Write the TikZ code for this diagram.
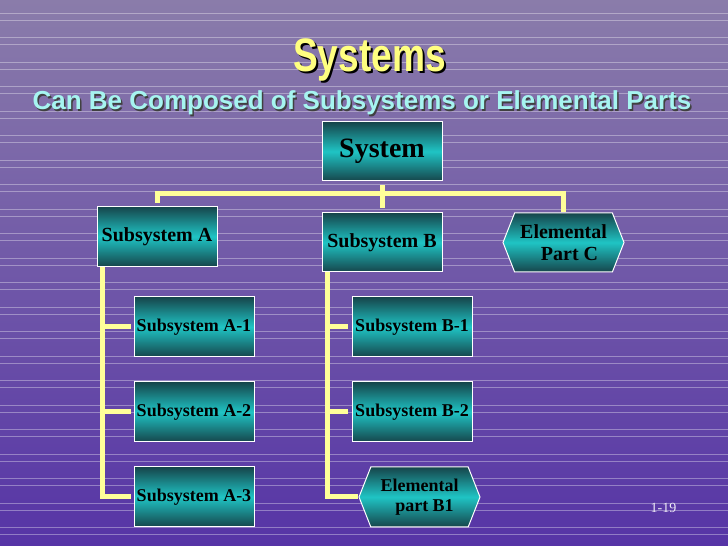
\documentclass[tikz,border=0pt]{standalone}
\usepackage{fontspec}
\setmainfont{Liberation Serif}
\newfontfamily\headfont{Liberation Sans}
\usetikzlibrary{shapes.symbols}
\definecolor{bgtopcolor}{HTML}{8A7CAA}
\definecolor{bgbotcolor}{HTML}{5634A6}
\definecolor{boxdarkcolor}{HTML}{16454B}
\definecolor{boxlightcolor}{HTML}{1FC4C4}
\definecolor{buscolor}{HTML}{FFFF99}
\definecolor{titlecolor}{HTML}{FFFF80}
\definecolor{subtitlecolor}{HTML}{A6F4F0}
\tikzset{
  unit/.style={draw=white, line width=1pt, top color=boxdarkcolor, bottom color=boxdarkcolor,
    middle color=boxlightcolor, minimum width=120pt, minimum height=60pt, inner sep=0pt,
    text=black, font=\bfseries\fontsize{18}{20}\selectfont},
  part/.style={unit, signal, signal to=west and east, signal pointer angle=137, align=center},
  bus/.style={draw=buscolor, line width=5pt},
  bgline/.style={draw=white, opacity=0.35, line width=0.8pt},
  headline/.style={anchor=base, font=\headfont\bfseries\fontsize{47}{50}\selectfont},
  subhead/.style={anchor=base, font=\headfont\bfseries\fontsize{26}{28}\selectfont}
}
\begin{document}
\begin{tikzpicture}[x=1pt,y=1pt]
  \useasboundingbox (0,0) rectangle (728,546);
  \shade[top color=bgtopcolor, bottom color=bgbotcolor] (0,0) rectangle (728,546);
  \foreach \k in {0,...,21}
  {
    \draw[bgline] (0,{533-24.5*\k}) -- (728,{533-24.5*\k});
    \draw[bgline] (0,{526-24.5*\k}) -- (728,{526-24.5*\k});
  }

  \node[headline, text=black] (titleshade) at (371.5,472) {\scalebox{0.79}[1]{Systems}};
  \node[headline, text=titlecolor] (title) at (369.5,474) {\scalebox{0.79}[1]{Systems}};
  \node[subhead, text=black!75] (subtitleshade) at (363.5,434.5) {Can Be Composed of Subsystems or Elemental Parts};
  \node[subhead, text=subtitlecolor] (subtitle) at (362,436) {Can Be Composed of Subsystems or Elemental Parts};

  \node[unit, minimum height=59pt, font=\bfseries\fontsize{28}{30}\selectfont] (sys) at (382,394.5) {System};
  \node[unit, font=\bfseries\fontsize{20}{22}\selectfont] (subA) at (157,309.5) {Subsystem A};
  \node[unit, minimum height=59pt, font=\bfseries\fontsize{20}{22}\selectfont] (subB) at (382,303.5) {Subsystem B};
  \node[part, minimum width=121pt, minimum height=59pt, font=\bfseries\fontsize{20}{22}\selectfont] (partC) at (563.5,303.5)
    {Elemental\\\hspace*{12pt}Part C};

  \node[unit] (a1) at (194,219) {Subsystem A-1};
  \node[unit] (a2) at (194,134) {Subsystem A-2};
  \node[unit] (a3) at (194,49) {Subsystem A-3};
  \node[unit] (b1) at (412,219) {Subsystem B-1};
  \node[unit] (b2) at (412,134) {Subsystem B-2};
  \node[part, minimum width=121pt] (partB) at (419.5,49) {Elemental\\\hspace*{10pt}part B1};

  \draw[bus] ([yshift=3pt]subA.north) -- ++(0,9) -| (partC.north);
  \draw[bus] ([yshift=-4pt]sys.south) -- ([yshift=4pt]subB.north);
  \foreach \n in {a1,a2,a3}
    \draw[bus] ([xshift=6pt]subA.south west) |- ([xshift=-3pt]\n.west);
  \foreach \n in {b1,b2}
    \draw[bus] ([xshift=5.5pt]subB.south west) |- ([xshift=-4pt]\n.west);
  \draw[bus] ([xshift=5.5pt]subB.south west) |- (partB.west);

  \node[font=\fontsize{14}{16}\selectfont, text=white!90!bgbotcolor] (pageno) at (663.5,38.5) {1-19};
\end{tikzpicture}
\end{document}
